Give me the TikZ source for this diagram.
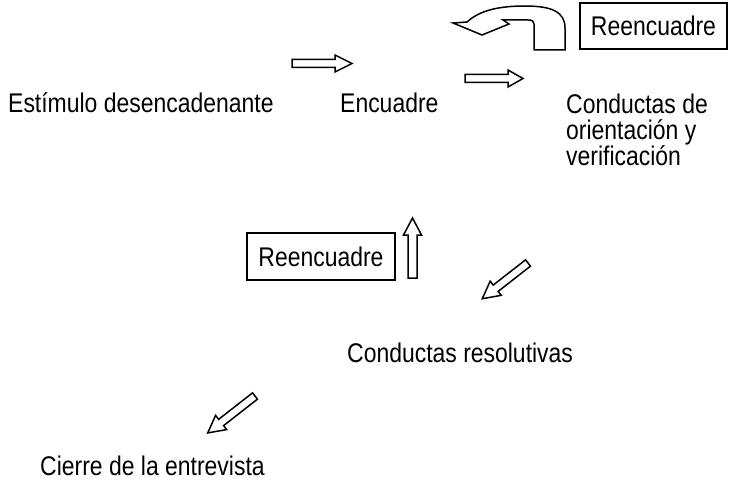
\documentclass[tikz,border=0pt]{standalone}
\usepackage{fontspec}
\setmainfont[FakeStretch=0.85]{Liberation Sans}
\newcommand\blkarrow[6]{% tail, angle, length, shaft half, head half, head length
  \draw[barrow, shift={#1}, rotate=#2]
    (0,-#4) -- ({#3-#6},-#4) -- ({#3-#6},-#5) -- (#3,0) -- ({#3-#6},#5) -- ({#3-#6},#4) -- (0,#4) -- cycle;}
\begin{document}
\begin{tikzpicture}[x=1pt,y=-1pt,
  lbl/.style={font=\fontsize{27}{26}\selectfont, inner sep=0pt, anchor=base west},
  rbox/.style={draw, line width=1.7pt, font=\fontsize{27}{26}\selectfont, inner sep=0pt},
  barrow/.style={draw, line width=1.5pt, fill=white, line join=miter}]
\useasboundingbox (0,0) rectangle (730,484);
\node[lbl] (est) at (8,113) {Estímulo desencadenante};
\node[lbl] (enc) at (340,113) {Encuadre};
\node[lbl, align=left] (cov) at (566,165) {Conductas de\\orientación y\\verificación};
\node[lbl] (res) at (347,362) {Conductas resolutivas};
\node[lbl] (cie) at (40,475) {Cierre de la entrevista};
\node[rbox, minimum width=147pt, minimum height=46pt] (re1) at (653.5,26) {Reencuadre};
\node[rbox, minimum width=148pt, minimum height=47pt] (re2) at (321,256.5) {Reencuadre};
% block arrows
\blkarrow{(292,63.5)}{0}{60}{4}{8.5}{17}
\blkarrow{(465,78.5)}{0}{58}{4}{8.5}{15}
\blkarrow{(412.5,278)}{90}{60}{4.5}{9}{17}
\blkarrow{(528,263)}{218}{58}{4}{9}{17}
\blkarrow{(255,396)}{218}{60}{4}{9}{17}
% curved return arrow
\draw[barrow] (534,50) -- (534,24) .. controls (534,21) and (532,20) .. (528,20) -- (503,20) -- (509,24) -- (482,35) -- (453,23) -- (467,22)
  .. controls (480,10) and (500,6) .. (525,6) .. controls (552,6) and (565,12) .. (565,28) -- (565,50) -- cycle;
\end{tikzpicture}
\end{document}
